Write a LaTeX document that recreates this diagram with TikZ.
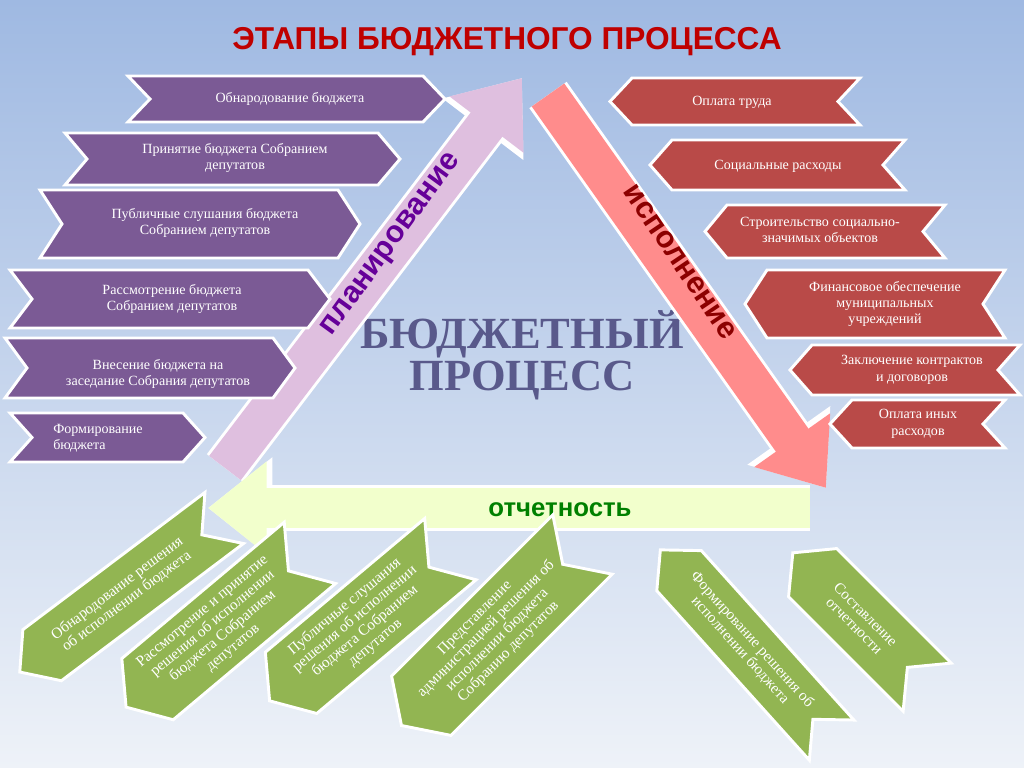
\documentclass[tikz,border=0pt]{standalone}
\usepackage{fontspec}
\setmainfont{Liberation Serif}
\newfontfamily\headfont{Liberation Sans}
\usetikzlibrary{arrows.meta}
\definecolor{ribpurple}{HTML}{7B5A95}
\definecolor{ribred}{HTML}{B94A48}
\definecolor{ribgreen}{HTML}{92B552}
\definecolor{bgtop}{HTML}{9FB9E2}
\definecolor{bgbot}{HTML}{EEF2F8}
\tikzset{
  rib/.style={draw=white,line width=2.5pt},
  ribtext/.style={text=white,align=center,font=\fontsize{12}{14}\selectfont},
  gtext/.style={text=white,align=center,font=\fontsize{13}{13.5}\selectfont},
  bigarrow/.style={line width=34pt,-{Triangle[length=50pt,width=76pt]}},
  bigrim/.style={white,line width=39pt,-{Triangle[length=55pt,width=83pt]}}
}
% notch left, point right
\newcommand{\ribpt}[4]{\fill[ribpurple,rib] (#1,#2) -- (#3-22,#2) -- (#3,{(#2+#4)/2}) -- (#3-22,#4) -- (#1,#4) -- (#1+22,{(#2+#4)/2}) -- cycle;}
% point left, notch right
\newcommand{\ribpl}[4]{\fill[ribred,rib] (#1+22,#2) -- (#3,#2) -- (#3-22,{(#2+#4)/2}) -- (#3,#4) -- (#1+22,#4) -- (#1,{(#2+#4)/2}) -- cycle;}
\newcommand{\greenrib}[7]{%
  \begin{scope}[shift={(#1,#2)},rotate=#3]
    \fill[ribgreen,rib] (-#4+28,-#5) -- (#4,-#5) -- (#4-28,0) -- (#4,#5) -- (-#4+28,#5) -- (-#4,0) -- cycle;
  \end{scope}
  \node[gtext,rotate=#3] (#7) at (#1,#2) {#6};}
\begin{document}
\begin{tikzpicture}[x=0.03cm,y=-0.03cm]
\shade[top color=bgtop,bottom color=bgbot] (0,0) rectangle (1024,768);
\useasboundingbox (0,0) rectangle (1024,768);
\node[font=\headfont\bfseries\fontsize{27}{30}\selectfont,text=red!75!black] (title) at (507,42) {ЭТАПЫ БЮДЖЕТНОГО ПРОЦЕССА};
\node[font=\bfseries\fontsize{38}{36}\selectfont,text=blue!30!black!65!white,align=center] (centre) at (522,355) {БЮДЖЕТНЫЙ\\ПРОЦЕСС};

% big arrows
\coordinate (planA) at (225,468);
\coordinate (planB) at (522,78);
\coordinate (ispA) at (548,95);
\coordinate (ispB) at (826,488);
\coordinate (otchA) at (810,508);
\coordinate (otchB) at (208,508);
\draw[bigrim] (planA) -- (planB);
\draw[bigarrow,violet!25!white] (planA) -- (planB);
\draw[bigrim] (ispA) -- (ispB);
\draw[bigarrow,red!45!white] (ispA) -- (ispB);
\draw[bigrim] (otchA) -- (otchB);
\draw[bigarrow,green!25!yellow!20!white] (otchA) -- (otchB);
\node[font=\headfont\bfseries\fontsize{26}{28}\selectfont,text=violet!80!blue,rotate=54] (plan) at (392,245) {планирование};
\node[font=\headfont\bfseries\fontsize{26}{28}\selectfont,text=red!55!black,rotate=-56] (isp) at (680,262) {исполнение};
\node[font=\headfont\bfseries\fontsize{22}{24}\selectfont,text=green!50!black] (otch) at (560,510) {отчетность};

% planning
\ribpt{128}{76}{445}{122}
\node[ribtext] (p1) at (290,99) {Обнародование бюджета};
\ribpt{65}{133}{400}{185}
\node[ribtext] (p2) at (235,158) {Принятие бюджета Собранием\\депутатов};
\ribpt{40}{190}{360}{258}
\node[ribtext] (p3) at (205,223) {Публичные слушания бюджета\\Собранием депутатов};
\ribpt{10}{270}{330}{328}
\node[ribtext] (p4) at (172,299) {Рассмотрение бюджета\\Собранием депутатов};
\ribpt{5}{338}{295}{398}
\node[ribtext] (p5) at (158,374) {Внесение бюджета на\\заседание Собрания депутатов};
\ribpt{10}{413}{205}{462}
\node[ribtext,align=left] (p6) at (98,438) {Формирование\\бюджета};

% execution
\ribpl{610}{78}{860}{125}
\node[ribtext] (e1) at (732,102) {Оплата труда};
\ribpl{650}{140}{905}{190}
\node[ribtext] (e2) at (778,166) {Социальные расходы};
\ribpl{705}{205}{945}{258}
\node[ribtext] (e3) at (820,230) {Строительство социально-\\значимых объектов};
\ribpl{745}{270}{1005}{338}
\node[ribtext] (e4) at (885,304) {Финансовое обеспечение\\муниципальных\\учреждений};
\ribpl{790}{345}{1020}{395}
\node[ribtext] (e5) at (912,370) {Заключение контрактов\\и договоров};
\ribpl{830}{400}{1005}{448}
\node[ribtext] (e6) at (918,424) {Оплата иных\\расходов};

% reporting
\greenrib{122}{595}{37}{128}{32}{Обнародование решения\\об исполнении бюджета}{g1}
\greenrib{218}{630}{40}{120}{40}{Рассмотрение и принятие\\решения об исполнении\\бюджета Собранием\\депутатов}{g2}
\greenrib{360}{625}{40}{118}{40}{Публичные слушания\\решения об исполнении\\бюджета Собранием\\депутатов}{g3}
\greenrib{492}{635}{45}{128}{42}{Представление\\администрацией решения об\\исполнении бюджета\\Собранию депутатов}{g4}
\greenrib{746}{645}{-48}{128}{30}{Формирование решения об\\исполнении бюджета}{g5}
\greenrib{860}{620}{-45}{95}{34}{Составление\\отчетности}{g6}
\end{tikzpicture}
\end{document}
